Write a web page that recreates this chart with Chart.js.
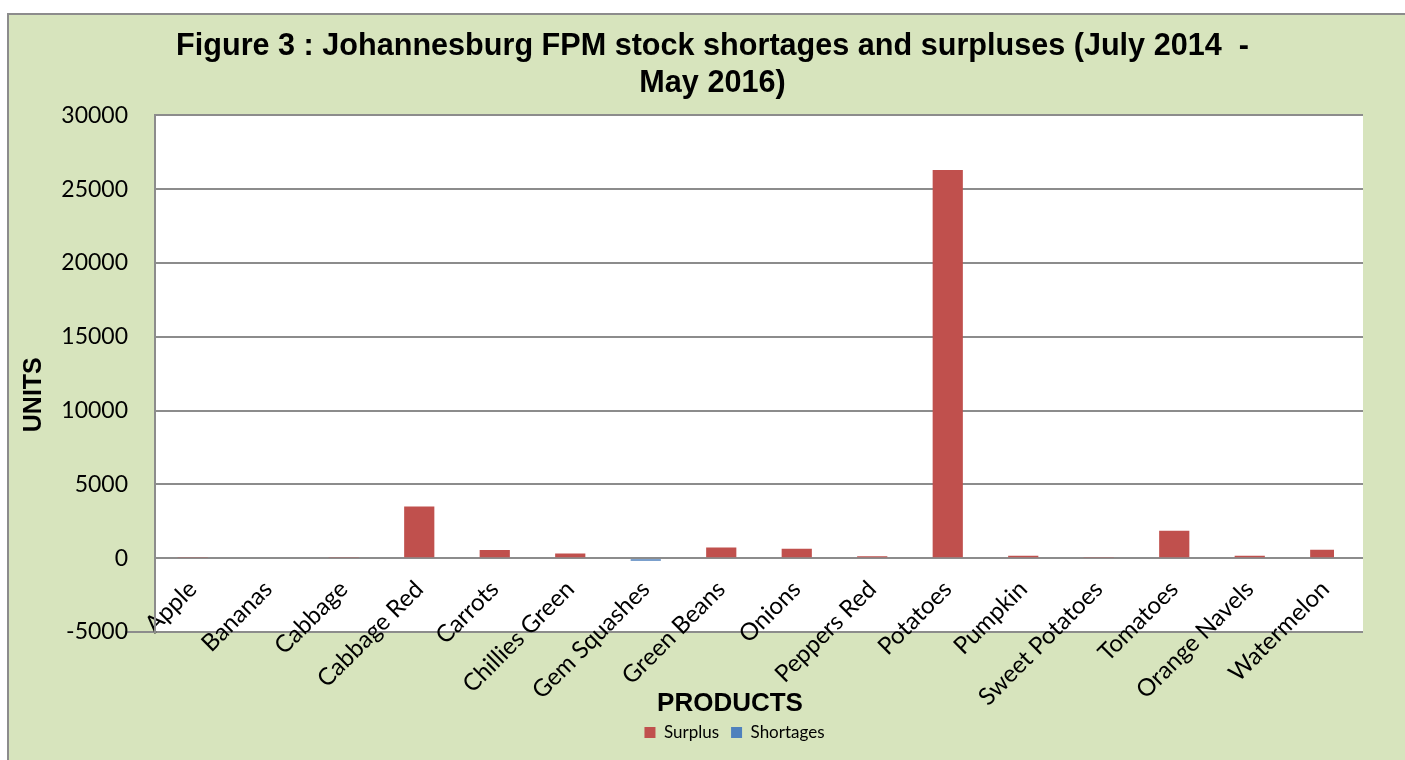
<!DOCTYPE html>
<html>
<head>
<meta charset="utf-8">
<script src="https://cdn.jsdelivr.net/npm/chart.js@4/dist/chart.umd.min.js"></script>
<style>
  html, body { margin: 0; padding: 0; background: #fff; overflow: hidden; }
  #frame {
    position: absolute; left: 7px; top: 13px; width: 1420px; height: 780px;
    background: #d7e4bd; border: 2px solid #8c8c8c;
  }
  #wrap { position: absolute; left: 0; top: 0; width: 1405px; height: 760px; }
</style>
</head>
<body>
<div id="frame"></div>
<div id="wrap"><canvas id="myChart"></canvas></div>
<script>
const products = [
  "Apple", "Bananas", "Cabbage", "Cabbage Red", "Carrots", "Chillies Green",
  "Gem Squashes", "Green Beans", "Onions", "Peppers Red", "Potatoes",
  "Pumpkin", "Sweet Potatoes", "Tomatoes", "Orange Navels", "Watermelon"
];
const surplus = [90, 0, 80, 3500, 550, 320, 0, 730, 640, 140, 26300, 160, 90, 1860, 160, 570];
const shortages = [0, 0, 0, 0, 0, 0, -180, 0, 0, 0, 0, 0, 0, 0, 0, 0];
const yTicks = [30000, 25000, 20000, 15000, 10000, 5000, 0, -5000];

const bodyFont = "Lato, 'Open Sans', sans-serif";
const boldFont = "'Liberation Sans', Arial, sans-serif";
const lineGrey = "#8c8c8c";

// white plot area and left axis line like the Excel original
const plotBg = {
  id: "plotBg",
  beforeDraw(chart) {
    const { ctx, chartArea: a } = chart;
    ctx.save();
    ctx.fillStyle = "#ffffff";
    ctx.fillRect(a.left, a.top, a.right - a.left, a.bottom - a.top);
    ctx.restore();
  },
  afterDraw(chart) {
    const { ctx } = chart;
    const a = chart.chartArea;
    ctx.save();
    ctx.fillStyle = lineGrey;
    ctx.fillRect(Math.round(a.left) - 1, Math.round(a.top) - 1, 2, Math.round(a.bottom - a.top) + 2);
    ctx.restore();
  },
  afterLayout(chart) {
    // nudge title, legend and axis titles to where the original has them
    chart.titleBlock.left += 31;
    chart.titleBlock.right += 31;
    chart.legend.left += 53;
    chart.legend.right += 53;
    chart.scales.y.top += 21;
    chart.scales.y.bottom += 21;
    chart.scales.x.left -= 29;
    chart.scales.x.right -= 29;
  },
};

chartIt();

function chartIt() {
  const ctx = document.getElementById("myChart");

  new Chart(ctx, {
    type: "bar",
    data: {
      labels: products,
      datasets: [
        {
          label: "Surplus",
          data: surplus,
          backgroundColor: "#c0504d",
          grouped: false,
          barPercentage: 0.4,
          categoryPercentage: 1,
        },
        {
          label: "Shortages",
          data: shortages,
          backgroundColor: "#4f81bd",
          grouped: false,
          barPercentage: 0.4,
          categoryPercentage: 1,
        },
      ],
    },
    options: {
      responsive: true,
      maintainAspectRatio: false,
      animation: false,
      layout: { padding: { left: 0, right: 42, top: 0, bottom: 9 } },
      plugins: {
        title: {
          display: true,
          text: ["Figure 3 : Johannesburg FPM stock shortages and surpluses (July 2014  -", "May 2016)"],
          color: "#000",
          font: { family: boldFont, size: 30.6, weight: "bold", lineHeight: 1.2 },
          padding: { top: 28, bottom: 14 },
        },
        legend: {
          position: "bottom",
          labels: {
            color: "#000",
            boxWidth: 11,
            boxHeight: 11,
            padding: 12,
            font: { family: bodyFont, size: 17 },
          },
        },
        tooltip: { enabled: false },
      },
      scales: {
        x: {
          grid: { display: false, drawTicks: false },
          border: { display: true, color: lineGrey, width: 2 },
          ticks: {
            color: "#000",
            font: { family: bodyFont, size: 24 },
            minRotation: 45,
            maxRotation: 45,
            autoSkip: false,
            padding: -57,
          },
          title: {
            display: true,
            text: "PRODUCTS",
            color: "#000",
            font: { family: boldFont, size: 26, weight: "bold", lineHeight: 0.6 },
            padding: 0,
          },
          afterFit(scale) {
            scale.height = 80;
            // labels reach up into the plot, so don't clip them to the axis box
            scale._computeLabelArea = () => undefined;
          },
        },
        y: {
          min: -5000,
          max: 30000,
          afterBuildTicks(scale) {
            scale.ticks = yTicks.map((v) => ({ value: v }));
          },
          grid: {
            color: lineGrey,
            lineWidth: 2,
            drawTicks: false,
          },
          border: { display: false },
          ticks: {
            color: "#000",
            font: { family: bodyFont, size: 23 },
            padding: 27,
            callback: (value) => String(value),
          },
          title: {
            display: true,
            text: "UNITS",
            color: "#000",
            font: { family: boldFont, size: 25, weight: "bold", lineHeight: 1 },
            padding: { top: 22, bottom: 0 },
          },
          afterFit(scale) {
            scale.width = 155;
          },
        },
      },
    },
    plugins: [plotBg],
  });
}
</script>
</body>
</html>
